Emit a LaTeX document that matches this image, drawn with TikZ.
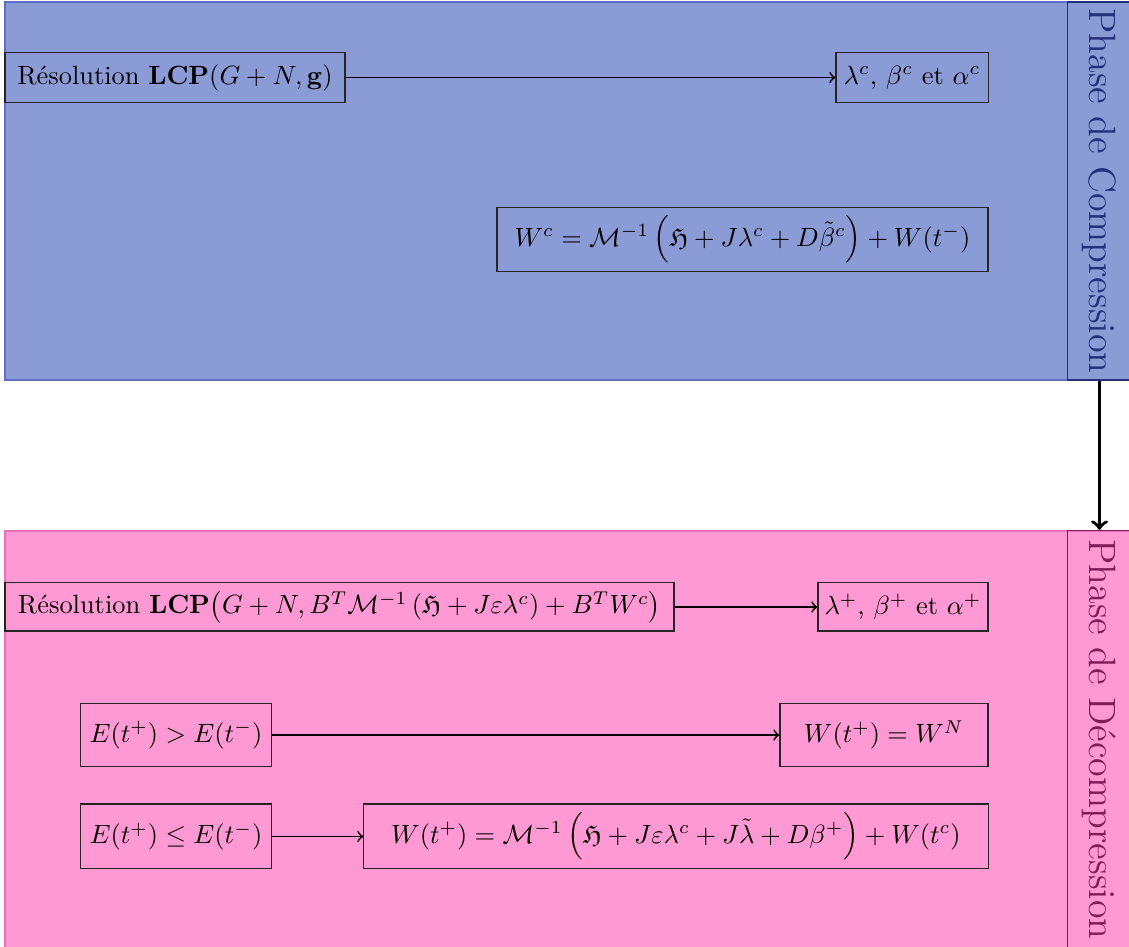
\documentclass[tikz,border=0pt]{standalone}
\usepackage{amsmath,amssymb}
\definecolor{topfill}{RGB}{139,155,214}
\definecolor{topedge}{RGB}{95,112,196}
\definecolor{topdark}{RGB}{36,48,120}
\definecolor{botfill}{RGB}{255,153,212}
\definecolor{botedge}{RGB}{236,110,186}
\definecolor{botdark}{RGB}{128,28,88}
\begin{document}
\begin{tikzpicture}[x=0.3788pt,y=-0.3788pt,
  box/.style={draw=black!85, line width=0.4pt, inner sep=0pt, anchor=center},
  link/.style={->, line width=0.65pt},
  phase/.style={draw, line width=0.4pt, rotate=-90, inner sep=0pt, font=\Large, minimum height=24.6pt},
]
\useasboundingbox (0,0) rectangle (1129,947);
% panels
\draw[draw=topedge, fill=topfill, line width=0.6pt] (5,2) rectangle (1135,380);
\draw[draw=botedge, fill=botfill, line width=0.6pt] (5,531) rectangle (1135,950);
\node[phase, draw=topdark, text=topdark, minimum width=143.2pt] (sc) at (1099.5,191) {Phase de Compression};
\node[phase, draw=botdark, text=botdark, minimum width=158.4pt] (sd) at (1099.5,739.5) {Phase de D\'ecompression};
% top nodes
\node[box, minimum width=128.8pt, minimum height=18.6pt] (a) at (175,77.5) {R\'esolution $\mathbf{LCP}(G+N,\mathbf{g})$};
\node[box, minimum width=57.6pt, minimum height=18.6pt] (b) at (912,77.5) {$\lambda^c$, $\beta^c$ et $\alpha^c$};
\node[box, minimum width=186pt, minimum height=23.9pt] (c) at (742.5,239.5) {$W^c=\mathcal{M}^{-1}\left(\mathfrak{H}+J\lambda^c+D\tilde{\beta}^c\right)+W(t^-)$};
% bottom nodes
\node[box, minimum width=253.4pt, minimum height=18.2pt] (d) at (339.5,607) {R\'esolution $\mathbf{LCP}\bigl(G+N,B^T\mathcal{M}^{-1}\left(\mathfrak{H}+J\varepsilon\lambda^c\right)+B^TW^c\bigr)$};
\node[box, minimum width=64.4pt, minimum height=18.2pt] (e) at (903,607) {$\lambda^+$, $\beta^+$ et $\alpha^+$};
\node[box, minimum width=72pt, minimum height=24.2pt] (f) at (176,735) {$E(t^+)>E(t^-)$};
\node[box, minimum width=78.8pt, minimum height=24.2pt] (g) at (884,735) {$W(t^+)=W^N$};
\node[box, minimum width=72pt, minimum height=24.6pt] (h) at (176,836.5) {$E(t^+)\leq E(t^-)$};
\node[box, minimum width=236.4pt, minimum height=24.6pt] (i) at (676,836.5) {$W(t^+)=\mathcal{M}^{-1}\left(\mathfrak{H}+J\varepsilon\lambda^c+J\tilde{\lambda}+D\beta^+\right)+W(t^c)$};
% connectors
\draw[link] (a) -- (b);
\draw[link] (d) -- (e);
\draw[link] (f) -- (g);
\draw[link] (h) -- (i);
\draw[->, line width=1.3pt] (sc.east) -- (sd.west);
\end{tikzpicture}
\end{document}
